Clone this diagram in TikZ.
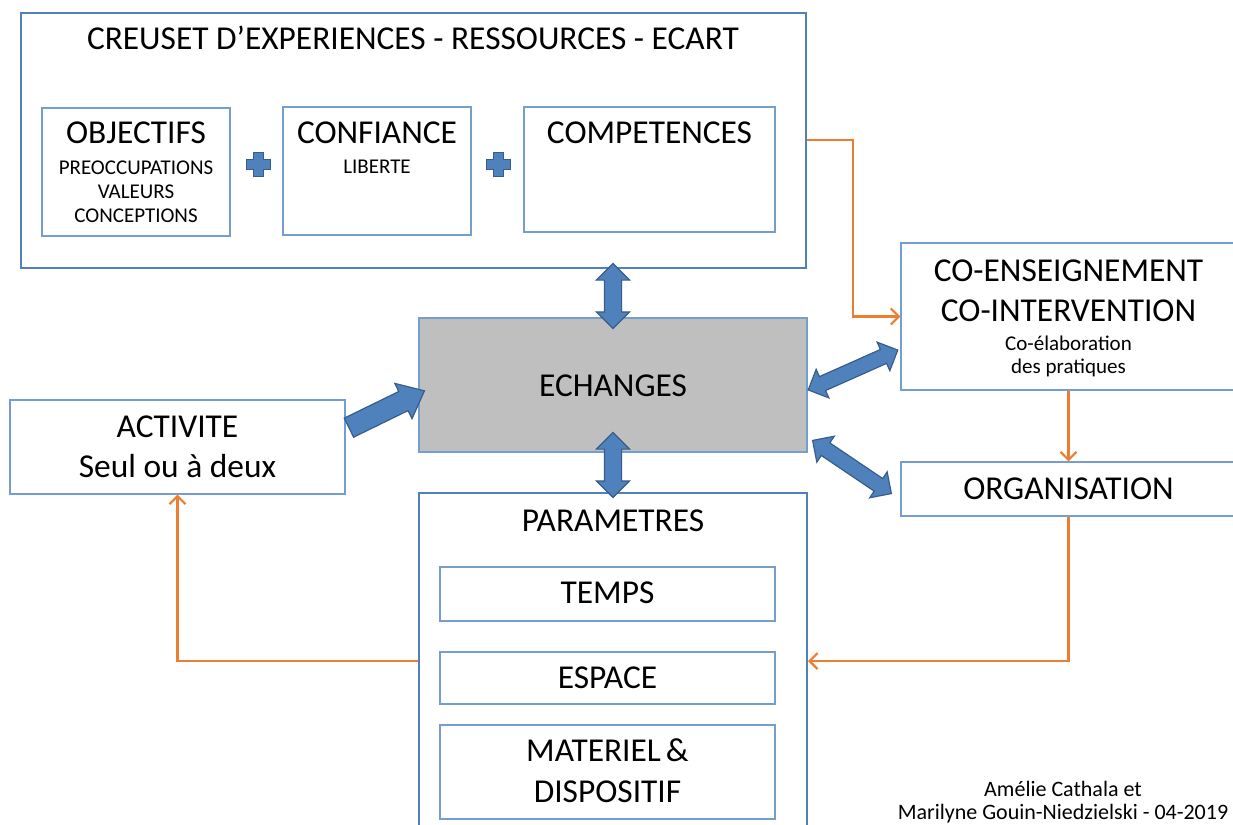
\documentclass[tikz,border=0pt]{standalone}
\usepackage{fontspec}
\setmainfont{Carlito}
\usepackage{tikz}
\usetikzlibrary{positioning}
\usetikzlibrary{fit,calc,shapes.arrows,arrows.meta}
\definecolor{boxblue}{RGB}{79,129,189}
\definecolor{lineblue}{RGB}{116,158,210}
\definecolor{darkblue}{RGB}{56,93,138}
\definecolor{echgray}{RGB}{191,191,191}
\definecolor{orangeline}{RGB}{237,125,49}

\begin{document}
\begin{tikzpicture}[
x=0.5pt, y=-0.5pt,
bigbox/.style={draw=boxblue, line width=1pt, inner sep=0pt},
smallbox/.style={draw=lineblue, line width=0.6pt, inner sep=0pt},
big/.style={font=\fontsize{16.7}{20}\selectfont, inner sep=0pt},
small/.style={font=\fontsize{10.5}{12}\selectfont, inner sep=0pt},
author/.style={font=\fontsize{11}{13}\selectfont, inner sep=0pt},
orangearrow/.style={draw=orangeline, line width=1.1pt, -{Straight Barb[length=4pt,width=8pt]}},
fatdouble/.style={double arrow, draw=darkblue, fill=boxblue, line width=0.6pt,
  inner xsep=0pt, inner ysep=4pt, double arrow head extend=4pt},
fatsingle/.style={single arrow, draw=darkblue, fill=boxblue, line width=0.6pt,
  inner xsep=0pt, inner ysep=5pt, single arrow head extend=4.5pt, single arrow tip angle=80}
]
% Rahmen des Bildes
\useasboundingbox (0,0) rectangle (1233,825);

% Creuset
\node[bigbox, fit={(21,13) (806,268)}] (crs) {};
\node[big, anchor=base] (crstitle) at (413,49) {CREUSET D’EXPERIENCES - RESSOURCES - ECART};

\node[smallbox, fit={(42,108) (230,236)}] (obj) {};
\node[big, anchor=base] (objt) at (obj.north |- 0,143) {OBJECTIFS};
\foreach \txt/\yy [count=\i] in {PREOCCUPATIONS/174, VALEURS/198, CONCEPTIONS/222}
  \node[small, anchor=base] (objl\i) at (obj.north |- 0,\yy) {\txt};

\node[smallbox, fit={(283,107) (471,235)}] (conf) {};
\node[big, anchor=base] (conft) at (conf.north |- 0,143) {CONFIANCE};
\node[small, anchor=base] (confl) at (conf.north |- 0,173) {LIBERTE};

\node[smallbox, fit={(524,107) (775,232)}] (comp) {};
\node[big, anchor=base] (compt) at (comp.north |- 0,143) {COMPETENCES};

% Pluszeichen
\foreach \px in {258,498}
  \draw[darkblue, fill=boxblue, line width=0.5pt, shift={(\px,164)}]
    (-5,-12) -- (5,-12) -- (5,-5) -- (12,-5) -- (12,5) -- (5,5) -- (5,12)
    -- (-5,12) -- (-5,5) -- (-12,5) -- (-12,-5) -- (-5,-5) -- cycle;

% Echanges
\node[fill=echgray, draw=lineblue, line width=0.6pt, inner sep=0pt, fit={(419,318) (807,452)}] (ech) {};
\node[big, anchor=base] (echt) at (ech.center |- 0,396) {ECHANGES};

% Activite
\node[smallbox, fit={(10,400) (345,494)}] (act) {};
\node[big, anchor=base] (actt) at (act.north |- 0,437) {ACTIVITE};
\node[big, anchor=base] (actl) at (act.north |- 0,477) {Seul ou à deux};

% Co-enseignement
\node[smallbox, fit={(901,243) (1236,390)}] (coens) {};
\node[big, anchor=base] (coenst) at (coens.north |- 0,281) {CO-ENSEIGNEMENT};
\node[big, anchor=base] (coensi) at (coens.north |- 0,321) {CO-INTERVENTION};
\node[small, anchor=base] (coensl1) at (coens.north |- 0,350) {Co-élaboration};
\node[small, anchor=base] (coensl2) at (coens.north |- 0,373) {des pratiques};

% Organisation
\node[smallbox, fit={(901,462) (1236,516)}] (org) {};
\node[big, anchor=base] (orgt) at (org.north |- 0,499) {ORGANISATION};

% Parametres
\node[bigbox, fit={(419,493) (807,830)}] (param) {};
\node[big, anchor=base] (paramt) at (param.north |- 0,531) {PARAMETRES};
\node[smallbox, fit={(440,567) (775,621)}] (tps) {};
\node[big, anchor=base] (tpst) at (tps.north |- 0,603) {TEMPS};
\node[smallbox, fit={(440,652) (775,704)}] (esp) {};
\node[big, anchor=base] (espt) at (esp.north |- 0,688) {ESPACE};
\node[smallbox, fit={(440,725) (775,819)}] (mat) {};
\node[big, anchor=base] (matt) at (mat.north |- 0,761) {MATERIEL\kern2.5pt\&};
\node[big, anchor=base] (matl) at (mat.north |- 0,802) {DISPOSITIF};

% dicke Pfeile
\node[fatdouble, rotate=90, minimum height=32.5pt] (ar1) at (ech.north |- 0,296) {};
\node[fatdouble, rotate=90, minimum height=32.5pt] (ar2) at (ech.south |- 0,465) {};
\node[fatdouble, rotate=24, minimum height=49pt, inner ysep=3.5pt] (ar3) at (853,370) {};
\node[fatdouble, rotate=-34, minimum height=47.5pt, inner ysep=3.5pt] (ar4) at (852,467) {};
\node[fatsingle, rotate=26, minimum height=42pt] (ar5) at (381,412) {};

% orange Verbindungen
\draw[orangearrow] (crs.east |- 0,140) -- (853,140) |- (coens.west);
\draw[orangearrow] (coens.south) -- (org.north);
\draw[orangearrow] (org.south) |- (param.east |- 0,661);
\draw[orangearrow] (param.west |- 0,661) -| (act.south);

% Autoren
\node[author, anchor=base] (aut1) at (1063,796) {Amélie Cathala et};
\node[author, anchor=base] (aut2) at (1063,819) {Marilyne Gouin-Niedzielski - 04-2019};
\end{tikzpicture}
\end{document}
